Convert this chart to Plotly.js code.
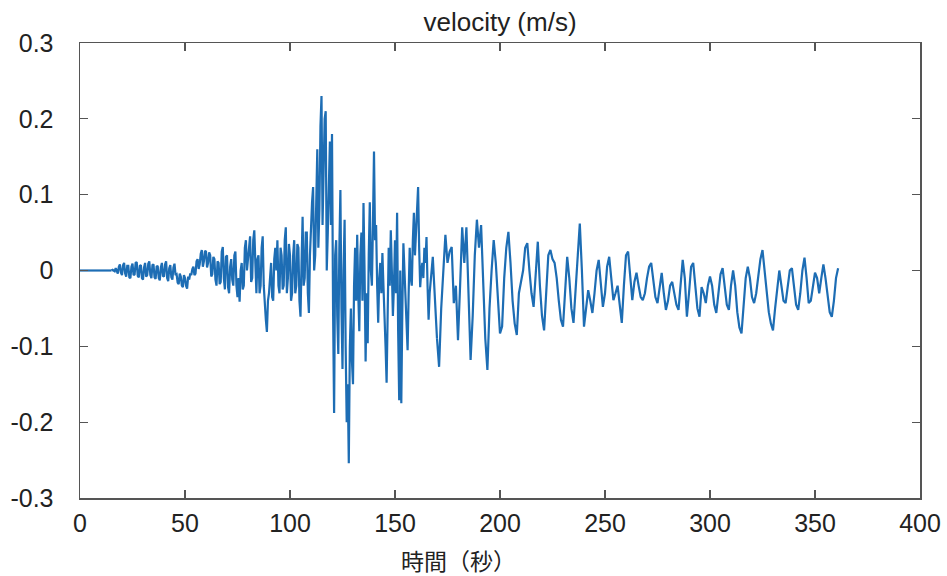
<!DOCTYPE html>
<html>
<head>
<meta charset="utf-8">
<script src="https://cdn.plot.ly/plotly-3.0.1.min.js"></script>
<style>html,body{margin:0;padding:0;background:#fff;}#chart{width:947px;height:576px;}</style>
</head>
<body>
<div id="chart"></div>
<script>
// Part A: quiet start, one value per second, t = 0 .. 15 s
const startA = 0, stepA = 1;
const velocityA = [0,0,0,0,0,0,0,0,0,0,0,0,0,0,0,0];

// Part B: dense part, one value every 0.5 s, t = 15 .. 170 s
const startB = 15, stepB = 0.5;
const velB_15_16 = [0,0.001,0,-0.001];
const velB_17_24 = [0.003,-0.002,-0.004,0.005,0.008,-0.003,-0.006,0.007,0.01,-0.004,-0.008,0.006,0.006,-0.009,-0.01,0.005];
const velB_25_34 = [0.009,-0.006,-0.005,0.01,0.011,-0.007,-0.009,0.006,0.007,-0.01,-0.012,0.004,0.01,-0.008,-0.006,0.009,0.012,-0.006,-0.01,0.007];
const velB_35_45 = [0.008,-0.009,-0.011,0.005,0.006,-0.01,-0.013,0.004,0.01,-0.007,-0.008,0.008,0.012,-0.01,-0.014,0.003,0.007,-0.009,-0.012,0.004,0.009,-0.006];
const velB_46_53 = [-0.005,-0.016,-0.018,-0.004,-0.008,-0.02,-0.022,-0.006,-0.01,-0.02,-0.024,-0.008,-0.012,-0.004,-0.006,0.002];
const velB_54_60 = [0.005,-0.006,-0.004,0.012,0.015,0.002,0.008,0.022,0.027,0.005,0.012,0.026,0.025,0.004];
const velB_61_70 = [0.01,0.024,0.02,-0.008,-0.005,0.018,0.015,-0.012,-0.02,0.012,0.01,-0.018,-0.015,0.025,0.031,-0.01,-0.025,0.018,0.02,-0.022];
const velB_71_80 = [-0.03,0.005,0.015,-0.012,-0.02,0.02,0.025,-0.02,-0.035,-0.01,-0.041,0.0,0.01,-0.025,-0.02,0.03,0.04,0.0,0.015,0.035];
const velB_81_90 = [0.045,-0.015,-0.01,0.04,0.053,0.01,-0.03,0.015,0.02,-0.03,-0.02,0.03,0.045,-0.02,-0.05,-0.065,-0.081,-0.04,-0.03,0.0];
const velB_91_100 = [0.01,-0.035,-0.04,0.015,0.03,0.0,0.04,-0.02,-0.03,0.03,0.02,-0.025,-0.02,0.04,0.057,-0.03,-0.01,0.035,0.02,-0.04];
const velB_101_110 = [-0.03,0.02,0.04,-0.03,-0.02,0.035,0.03,-0.04,-0.061,0.01,0.071,-0.02,-0.01,0.05,0.05,-0.03,-0.056,0.02,0.06,0.09];
const velB_111_120 = [0.11,0.0,0.02,0.12,0.16,0.03,0.08,0.19,0.23,0.06,0.12,0.2,0.21,0.0,0.05,0.14,0.17,0.06,0.18,-0.05];
const velB_121_130 = [-0.188,0.02,0.04,-0.06,-0.11,0.03,0.106,-0.05,-0.13,0.0,0.067,-0.1,-0.2,-0.15,-0.254,-0.1,-0.05,-0.12,-0.15,-0.02];
const velB_131_140 = [0.03,-0.04,0.047,-0.03,-0.08,0.02,0.05,-0.04,0.089,0.0,-0.12,-0.03,-0.096,0.02,0.09,0.0,-0.02,0.06,0.157,0.04];
const velB_141_150 = [0.06,-0.02,-0.069,-0.01,0.01,-0.03,0.023,-0.02,-0.05,-0.1,-0.148,-0.05,0.03,-0.02,0.053,0.0,-0.06,-0.02,0.04,-0.03];
const velB_151_160 = [0.076,-0.08,-0.171,0.0,-0.175,-0.05,0.036,0.0,-0.04,-0.08,-0.105,-0.03,0.03,-0.01,-0.02,0.04,0.076,0.02,0.05,0.09];
const velB_161_170 = [0.11,0.03,-0.022,0.0,0.01,-0.01,0.03,0.01,0.044,-0.02,-0.065,-0.03,-0.01,0.005,0.018,-0.01,-0.04,-0.07,-0.09];
const velocityB = [].concat(velB_15_16, velB_17_24, velB_25_34, velB_35_45, velB_46_53, velB_54_60,
  velB_61_70, velB_71_80, velB_81_90, velB_91_100, velB_101_110, velB_111_120, velB_121_130,
  velB_131_140, velB_141_150, velB_151_160, velB_161_170);

// Part C: coda, one value per second, t = 170 .. 361 s
const startC = 170, stepC = 1;
const velC_170_220 = [-0.09,
  -0.127,-0.05,0.0,0.047,0.01,0.025,0.031,-0.043,-0.02,-0.092,
  -0.02,0.057,0.01,0.057,-0.03,-0.118,-0.06,0.02,0.067,0.03,
  0.06,-0.02,-0.09,-0.131,-0.05,0.0,0.04,0.01,-0.04,-0.083,
  -0.074,-0.01,0.03,0.051,0.01,-0.04,-0.07,-0.085,-0.03,-0.013,
  0.0,0.03,0.036,0.0,-0.03,-0.048,0.0,0.038,-0.02,-0.06];
const velC_221_280 = [-0.079,-0.02,0.02,0.027,0.015,0.01,-0.01,-0.04,-0.065,-0.074,
  -0.02,0.018,-0.01,-0.05,-0.069,-0.02,0.03,0.062,0.0,-0.074,
  -0.05,-0.026,-0.04,-0.056,-0.03,0.0,0.014,-0.02,-0.048,-0.03,
  0.005,0.018,-0.01,-0.039,-0.03,-0.02,-0.045,-0.069,-0.02,0.02,
  0.025,-0.01,-0.039,-0.015,-0.003,-0.02,-0.035,-0.039,-0.03,-0.01,
  0.005,0.01,-0.01,-0.035,-0.043,-0.02,-0.003,-0.03,-0.052,-0.04];
const velC_281_361 = [-0.02,-0.015,-0.03,-0.045,-0.052,-0.02,0.014,-0.01,-0.061,-0.03,
  0.005,0.01,-0.02,-0.05,-0.061,-0.022,-0.03,-0.043,-0.02,-0.008,
  -0.02,-0.045,-0.056,-0.03,-0.005,0.003,-0.02,-0.045,-0.052,-0.02,
  0.0,-0.02,-0.055,-0.075,-0.083,-0.05,-0.01,0.005,-0.01,-0.035,
  -0.043,-0.03,-0.005,0.015,0.027,0.0,-0.03,-0.055,-0.07,-0.079,
  -0.05,-0.02,0.0,-0.02,-0.04,-0.043,-0.02,0.0,0.003,-0.02,
  -0.045,-0.052,-0.03,0.0,0.017,-0.01,-0.043,-0.04,-0.02,-0.003,
  -0.01,-0.03,-0.01,0.008,-0.01,-0.035,-0.055,-0.061,-0.04,-0.01,0.003];
const velocityC = [].concat(velC_170_220, velC_221_280, velC_281_361);

const xTickVals = [0,50,100,150,200,250,300,350,400];
const yTickVals = [-0.3,-0.2,-0.1,0,0.1,0.2,0.3];
const yTickText = ['-0.3','-0.2','-0.1','0','0.1','0.2','0.3'];

const titleText = 'velocity (m/s)';
const xTitleText = '時間（秒）';

const font = '"Liberation Sans", Arial, Helvetica, sans-serif';
const lineStyle = {color: '#1d6db4', width: 2.2};

function part(y, x0, dx) {
  return {type: 'scatter', mode: 'lines', y: y, x0: x0, dx: dx, line: lineStyle, hoverinfo: 'x+y'};
}

const axisCommon = {
  showgrid: false,
  zeroline: false,
  showline: true,
  linecolor: '#555',
  linewidth: 1.5,
  mirror: 'ticks',
  ticks: 'inside',
  ticklen: 8,
  tickwidth: 1.3,
  tickcolor: '#555',
  tickfont: {family: font, size: 25, color: '#222'}
};

const layout = {
  width: 947,
  height: 576,
  margin: {l: 80, r: 27, t: 43, b: 78},
  paper_bgcolor: '#fff',
  plot_bgcolor: '#fff',
  showlegend: false,
  title: {
    text: titleText,
    font: {family: font, size: 26, color: '#222'},
    x: 0.5, xref: 'paper',
    y: 1 - 22/576, yref: 'container', yanchor: 'middle'
  },
  xaxis: Object.assign({}, axisCommon, {
    range: [0, 400],
    tickmode: 'array',
    tickvals: xTickVals,
    ticklabelstandoff: 2
  }),
  yaxis: Object.assign({}, axisCommon, {
    range: [-0.3, 0.3],
    tickmode: 'array',
    tickvals: yTickVals,
    ticktext: yTickText,
    ticklabelstandoff: 20
  }),
  annotations: [{
    text: xTitleText,
    xref: 'paper', yref: 'paper',
    x: 0.451, y: -0.136,
    xanchor: 'center', yanchor: 'middle',
    showarrow: false,
    font: {family: '"Noto Sans CJK JP", "Noto Sans CJK SC", sans-serif', size: 23, color: '#222'}
  }]
};

Plotly.newPlot('chart', [part(velocityA, startA, stepA), part(velocityB, startB, stepB), part(velocityC, startC, stepC)],
  layout, {displayModeBar: false, staticPlot: true});
</script>
</body>
</html>
